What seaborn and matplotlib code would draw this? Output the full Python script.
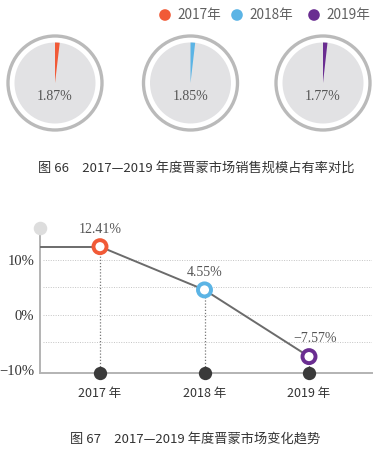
import matplotlib
matplotlib.use("Agg")
import matplotlib.pyplot as plt
import seaborn as sns
from matplotlib.patches import Circle

# data
years = ["2017年", "2018年", "2019年"]
year_ticks = ["2017 年", "2018 年", "2019 年"]
share = [1.87, 1.85, 1.77]          # market share, %
growth = [12.41, 4.55, -7.57]       # change, %
growth_labels = ["12.41%", "4.55%", "\u22127.57%"]
colors = ["#f15a37", "#5bb4e5", "#6a2d91"]
yticks = [10, 0, -10]
ytick_labels = ["10%", "0%", "\u221210%"]
caption1 = "图 66\u30002017—2019 年度晋蒙市场销售规模占有率对比"
caption2 = "图 67\u30002017—2019 年度晋蒙市场变化趋势"

sns.set_theme(style="white")
plt.rcParams['font.family'] = ['Noto Sans CJK SC', 'DejaVu Sans']
SERIF = ['Liberation Serif', 'DejaVu Serif']

W, H = 391, 455
fig = plt.figure(figsize=(W / 100, H / 100), dpi=100)


def box(x0, y0, x1, y1):
    # pixel box (top-left origin) -> figure fraction
    return [x0 / W, 1 - y1 / H, (x1 - x0) / W, (y1 - y0) / H]


# overlay for legend + captions
ov = fig.add_axes([0, 0, 1, 1])
ov.set_xlim(0, W)
ov.set_ylim(H, 0)
ov.axis("off")

leg_x = [165, 237, 314]
for lx, c, y in zip(leg_x, colors, years):
    ov.add_patch(Circle((lx, 15), 5.8, color=c, lw=0))
    ov.text(lx + 12, 15.5, y, ha="left", va="center", fontsize=9.8, color="#606060")

ov.text(196, 168, caption1, ha="center", va="center", fontsize=9.5, color="#333333")
ov.text(195, 440, caption2, ha="center", va="center", fontsize=9.5, color="#333333")

# pies
pie_cx = [55, 190.5, 323]
for cx, s, c in zip(pie_cx, share, colors):
    ax = fig.add_axes(box(cx - 52, 83 - 52, cx + 52, 83 + 52))
    ax.add_patch(Circle((0, 0), 47, fill=False, ec="#bababa", lw=2.4))
    ax.add_patch(Circle((0, 0), 40.5, color="#e2e2e4", lw=0))
    ax.pie([s, 100 - s], radius=40.5, startangle=90, counterclock=False,
           colors=[c, "none"], wedgeprops=dict(lw=0))
    ax.text(0, -14, f"{s:.2f}%", ha="center", va="center", fontsize=10,
            color="#555555", family=SERIF)
    ax.set_xlim(-52, 52)
    ax.set_ylim(-52, 52)
    ax.set_aspect("equal")
    ax.axis("off")

# line chart
ax = fig.add_axes(box(40, 228, 372, 373))
xpos = list(range(len(growth)))
xl = (-60 / 104.5, 2 + 63 / 104.5)
ax.set_xlim(*xl)
ax.set_ylim(-10.55, 15.8)

for gy in [10, 5, 0, -5]:
    ax.axhline(gy, xmin=0.01, color="#c4c4c4", lw=0.7, ls=(0, (1, 1.5)), zorder=1)

for x, y in zip(xpos, growth):
    ax.plot([x, x], [-10.55, y], color="#777777", lw=0.9, ls=(0, (1, 1.5)), zorder=2)

ax.plot([xl[0], xpos[0]], [growth[0], growth[0]], color="#6b6b6b", lw=1.4, zorder=3)
sns.lineplot(x=xpos, y=growth, color="#6b6b6b", lw=1.4, ax=ax, zorder=3)

sns.scatterplot(x=xpos, y=[-10.55] * 3, color="#3a3a3a", s=92, linewidth=0,
                ax=ax, clip_on=False, zorder=4)
ax.scatter(xpos, growth, s=88, facecolor="white", edgecolor=colors,
           linewidths=2.8, zorder=5, clip_on=False)

ax.scatter([xl[0]], [15.8], s=95, color="#dddddd", lw=0, clip_on=False, zorder=5)

offs = [(0, 3.2), (0, 3.1), (0.06, 3.3)]
for x, y, t, (dx, dy) in zip(xpos, growth, growth_labels, offs):
    ax.text(x + dx, y + dy, t, ha="center", va="center", fontsize=10,
            color="#555555", family=SERIF)

sns.despine(ax=ax)
for sp in ["left", "bottom"]:
    ax.spines[sp].set_color("#b3b3b3")
    ax.spines[sp].set_linewidth(1.4)
ax.set_xticks(xpos)
ax.set_xticklabels(year_ticks, fontsize=9, color="#333333")
ax.set_yticks(yticks)
ax.set_yticklabels(ytick_labels, fontsize=10.5, color="#333333", family=SERIF)
ax.tick_params(axis="x", length=0, pad=10)
ax.tick_params(axis="y", length=0, pad=4)
ax.set_xlabel("")
ax.set_ylabel("")
ax.grid(False)

fig.savefig("out.png", dpi=100)
